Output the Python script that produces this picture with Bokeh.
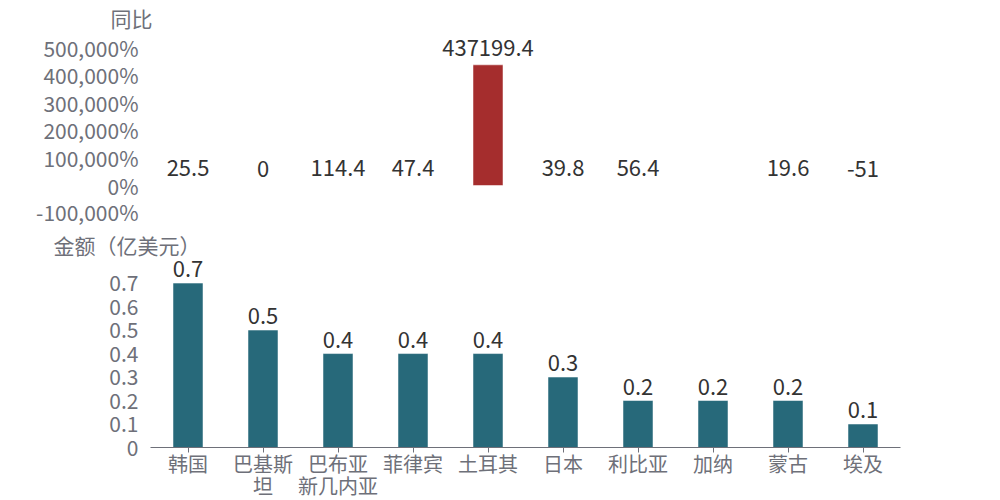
from bokeh.plotting import figure
from bokeh.layouts import column
from bokeh.models import ColumnDataSource, FactorRange, Range1d, FixedTicker, CustomJSTickFormatter, Title
from bokeh.core.properties import value
from bokeh.embed import file_html
from bokeh.resources import INLINE
import math

countries = ["韩国", "巴基斯\n坦", "巴布亚\n新几内亚", "菲律宾", "土耳其", "日本", "利比亚", "加纳", "蒙古", "埃及"]
yoy = [25.5, 0, 114.4, 47.4, 437199.4, 39.8, 56.4, float("nan"), 19.6, -51]
amount = [0.7, 0.5, 0.4, 0.4, 0.4, 0.3, 0.2, 0.2, 0.2, 0.1]
yoy_ticks = [-100000, 0, 100000, 200000, 300000, 400000, 500000]
amount_ticks = [0, 0.1, 0.2, 0.3, 0.4, 0.5, 0.6, 0.7]

FONT = "Noto Sans CJK SC"
CAT_FONT = "Liberation Sans, Noto Sans CJK SC"
AXIS_GRAY = "#6e7079"
LABEL_DARK = "#333333"
RED = "#a52d2d"
TEAL = "#27697a"


def fmt(v):
    s = f"{v:.1f}"
    if s.endswith(".0"):
        s = s[:-2]
    return s


x_range = FactorRange(*countries, range_padding=0)

# ---------- top chart: YoY ----------
SHIFT = 6                            # top figure starts SHIFT px above the page top
TOP_H, TOP_BT, TOP_BB = 226 + SHIFT, 38 + SHIFT, 11
top_frame_h = TOP_H - TOP_BT - TOP_BB
top_zero_px = 185 - 38              # zero line position from frame top
top_scale = 27.6 / 100000           # px per unit
p1 = figure(x_range=x_range,
            y_range=Range1d(-(top_frame_h - top_zero_px) / top_scale, top_zero_px / top_scale),
            width=1000, height=TOP_H, output_backend="svg", toolbar_location=None,
            min_border_left=150, min_border_right=100, min_border_top=TOP_BT, min_border_bottom=TOP_BB,
            margin=(-SHIFT, 0, 0, 0))
p1.outline_line_color = None
p1.grid.visible = False
p1.xaxis.visible = False
p1.yaxis.ticker = FixedTicker(ticks=yoy_ticks)
p1.yaxis.formatter = CustomJSTickFormatter(code="return tick.toLocaleString('en-US') + '%';")
p1.yaxis.axis_line_color = None
p1.yaxis.major_tick_line_color = None
p1.yaxis.minor_tick_line_color = None
p1.yaxis.major_label_text_font = FONT
p1.yaxis.major_label_text_font_size = "21px"
p1.yaxis.major_label_text_color = AXIS_GRAY
p1.yaxis.major_label_standoff = 6

src1 = ColumnDataSource(dict(x=countries, top=yoy))
p1.vbar(x="x", top="top", bottom=0, width=0.4, source=src1,
        fill_color=RED, line_color="white", line_alpha=0.5, line_width=1)

lab_x = [c for c, v in zip(countries, yoy) if not math.isnan(v)]
lab_y = [v for v in yoy if not math.isnan(v)]
lab_t = [fmt(v) for v in lab_y]
src1l = ColumnDataSource(dict(x=lab_x, y=lab_y, t=lab_t))
p1.text(x="x", y="y", text="t", source=src1l, text_align="center", text_baseline="bottom",
        y_offset=-9, text_font=value(FONT), text_font_size="22px", text_color=LABEL_DARK)

p1.add_layout(Title(text="同比", align="left", offset=-40, standoff=7, vertical_align="top",
                    text_font=FONT, text_font_size="21px", text_color=AXIS_GRAY,
                    text_font_style="normal"), "above")

# ---------- bottom chart: amount ----------
BOT_H, BOT_BT, BOT_BB = 274, 30, 50
bot_frame_h = BOT_H - BOT_BT - BOT_BB
bot_scale = (450 - 283) / 0.7
p2 = figure(x_range=x_range, y_range=Range1d(0, bot_frame_h / bot_scale), width=1000, height=BOT_H,
            output_backend="svg", toolbar_location=None,
            min_border_left=150, min_border_right=100, min_border_top=BOT_BT, min_border_bottom=BOT_BB)
p2.outline_line_color = None
p2.grid.visible = False
p2.yaxis.ticker = FixedTicker(ticks=amount_ticks)
p2.yaxis.axis_line_color = None
p2.yaxis.major_tick_line_color = None
p2.yaxis.minor_tick_line_color = None
p2.yaxis.major_label_text_font = FONT
p2.yaxis.major_label_text_font_size = "21px"
p2.yaxis.major_label_text_color = AXIS_GRAY
p2.yaxis.major_label_standoff = 6

p2.xaxis.axis_line_color = AXIS_GRAY
p2.xaxis.major_tick_line_color = AXIS_GRAY
p2.xaxis.major_tick_out = 5
p2.xaxis.major_tick_in = 0
p2.xaxis.major_label_text_font = CAT_FONT
p2.xaxis.major_label_text_font_size = "20px"
p2.xaxis.major_label_text_color = AXIS_GRAY
p2.xaxis.major_label_text_line_height = 1.0
p2.xaxis.major_label_standoff = 1

src2 = ColumnDataSource(dict(x=countries, top=amount, t=[fmt(v) for v in amount]))
p2.vbar(x="x", top="top", bottom=0, width=0.4, source=src2,
        fill_color=TEAL, line_color="white", line_alpha=0.5, line_width=1)
p2.text(x="x", y="top", text="t", source=src2, text_align="center", text_baseline="bottom",
        y_offset=-6, text_font=value(FONT), text_font_size="22px", text_color=LABEL_DARK)

p2.add_layout(Title(text="金额（亿美元）", align="left", offset=-97, standoff=-6, text_font=FONT,
                    text_font_size="21px", text_color=AXIS_GRAY, text_font_style="normal"), "above")

layout = column(p1, p2, spacing=0)
open("out.html", "w").write(file_html(layout, INLINE))
